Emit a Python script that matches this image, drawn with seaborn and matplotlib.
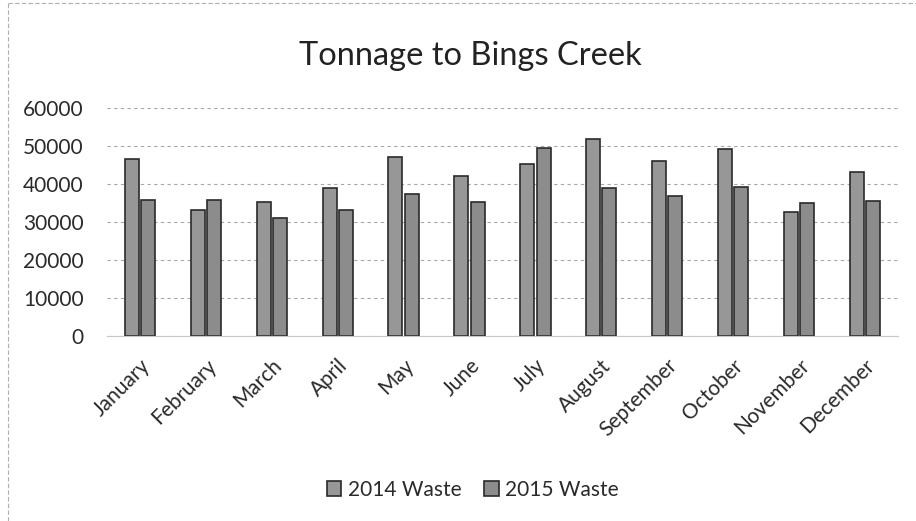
import matplotlib
matplotlib.use("Agg")
import matplotlib.pyplot as plt
import seaborn as sns
import pandas as pd

months = ["January", "February", "March", "April", "May", "June",
          "July", "August", "September", "October", "November", "December"]
waste_2014 = [46600, 33100, 35200, 38800, 47100, 42200,
              45300, 51800, 45900, 49200, 32500, 43100]
waste_2015 = [35900, 35900, 31100, 33200, 37400, 35300,
              49400, 39000, 36900, 39300, 35100, 35500]
series = ["2014 Waste", "2015 Waste"]
yticks = [0, 10000, 20000, 30000, 40000, 50000, 60000]

df = pd.DataFrame({
    "Month": months * 2,
    "Tonnage": waste_2014 + waste_2015,
    "Series": [series[0]] * 12 + [series[1]] * 12,
})

sns.set_style("white")
plt.rcParams['font.family'] = ['Lato', 'DejaVu Sans']

fig = plt.figure(figsize=(9.16, 5.21), dpi=100)
ax = fig.add_axes([0.117, 0.355, 0.863, 0.438])

sns.barplot(data=df, x="Month", y="Tonnage", hue="Series", order=months,
            hue_order=series, palette=["#979797", "#8c8c8c"], width=0.5,
            gap=0.15, edgecolor="#2a2a2a", linewidth=1.2, saturation=1,
            ax=ax)

ax.set_ylim(0, 60000)
ax.set_yticks(yticks)
ax.set_yticklabels([str(v) for v in yticks], fontsize=15, color="#2a2a2a")
ax.set_xlim(-0.5, 11.5)
ax.set_xticks(range(len(months)))
ax.set_xticklabels(months, rotation=45, ha="right", rotation_mode="anchor",
                   fontsize=15, color="#2a2a2a")
ax.tick_params(axis="y", length=0, pad=17)
ax.tick_params(axis="x", length=0, pad=14)
ax.set_xlabel("")
ax.set_ylabel("")
ax.yaxis.grid(True, color="#a8a8a8", linestyle=(0, (3, 3)), linewidth=0.8)
ax.set_axisbelow(True)
for s in ["left", "right", "top"]:
    ax.spines[s].set_visible(False)
ax.spines["bottom"].set_color("#c8c8c8")

fig.text(0.513, 0.875, "Tonnage to Bings Creek", ha="center", va="baseline",
         fontsize=23.5, color="#222222")

handles, labels = ax.get_legend_handles_labels()
ax.legend_.remove()
fig.legend(handles, labels, loc="center", bbox_to_anchor=(0.516, 0.06),
           ncol=2, frameon=False, fontsize=15, handlelength=0.7,
           handleheight=0.7, handletextpad=0.3, columnspacing=1.1,
           labelcolor="#2a2a2a")

# scanned page border: only top and left edges are visible
fig.add_artist(plt.Line2D([0.009, 0.009], [0.0, 0.994], transform=fig.transFigure,
                          color="#b0b0b0", linewidth=0.8, linestyle=(0, (4, 2))))
fig.add_artist(plt.Line2D([0.009, 1.0], [0.994, 0.994], transform=fig.transFigure,
                          color="#b0b0b0", linewidth=0.8, linestyle=(0, (4, 2))))

fig.savefig("out.png", dpi=100)
